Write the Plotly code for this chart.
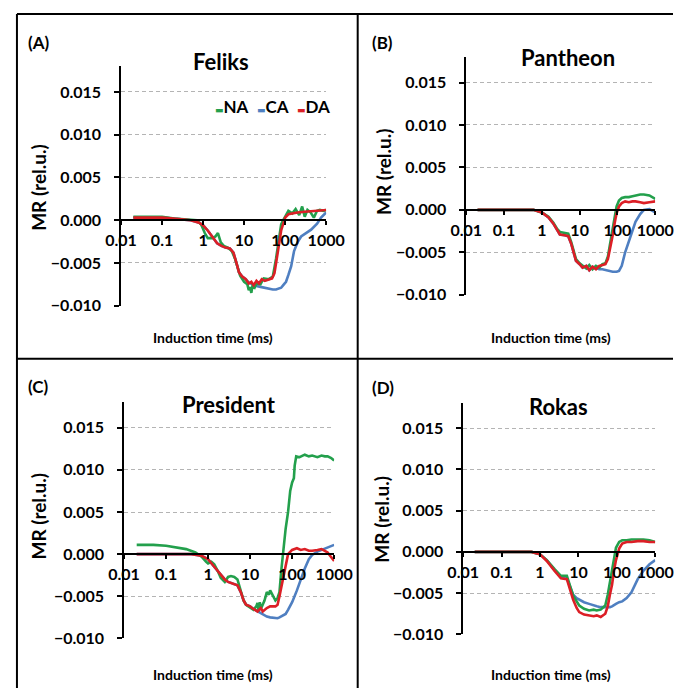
import plotly.graph_objects as go

W, H = 692, 697

GREEN = "#23a04c"
BLUE = "#4f7fc1"
RED = "#dc1f26"

series_names = ["NA", "CA", "DA"]
x_tick_vals = [0.01, 0.1, 1, 10, 100, 1000]
x_tick_text = ["0.01", "0.1", "1", "10", "100", "1000"]
y_tick_vals = [-0.010, -0.005, 0.0, 0.005, 0.010, 0.015]
y_tick_text = ["\u22120.010", "\u22120.005", "0.000", "0.005", "0.010", "0.015"]

panel_titles = ["Feliks", "Pantheon", "President", "Rokas"]
panel_letters = ["(A)", "(B)", "(C)", "(D)"]

# ---------------- Panel A : Feliks ----------------
A_na_t = [0.02, 0.05, 0.1, 0.2, 0.4, 0.7, 0.9, 1.1, 1.3, 1.7, 2.0, 2.3, 2.7, 3.2, 4, 5, 6, 7, 8, 10, 12, 13, 14,
          15, 16, 18, 20, 25, 30, 40, 50, 60, 70, 80, 90, 100, 120, 150, 180, 220, 260, 300, 350, 420, 500, 600,
          700, 850, 1000]
A_na_y = [0.0004, 0.0004, 0.0004, 0.0002, 0.0001, 0.0, -0.0005, -0.0015, -0.0021, -0.0021, -0.0019, -0.0015,
          -0.0026, -0.0030, -0.0032, -0.0036, -0.0045, -0.0056, -0.0065, -0.0072, -0.0075, -0.0082, -0.0078,
          -0.0085, -0.0077, -0.0079, -0.0074, -0.0075, -0.0068, -0.0069, -0.0066, -0.0045, -0.0020, -0.0005,
          0.0, 0.0004, 0.0011, 0.0008, 0.0013, 0.0006, 0.0016, 0.0004, 0.0012, 0.0009, 0.0003, 0.0011, 0.0012,
          0.0011, 0.0012]
A_ca_t = [0.02, 0.1, 0.3, 0.5, 0.8, 1.0, 1.3, 1.7, 2.2, 2.8, 3.5, 4.5, 5.5, 6.5, 7.5, 9, 11, 13, 16, 20, 25,
          30, 40, 50, 60, 70, 80, 90, 105, 120, 140, 165, 200, 245, 300, 430, 600, 750, 1000]
A_ca_y = [0.0003, 0.0003, 0.0001, 0.0, -0.0003, -0.0006, -0.0012, -0.0020, -0.0027, -0.0030, -0.0032, -0.0033,
          -0.0038, -0.0050, -0.0061, -0.0066, -0.0069, -0.0073, -0.0075, -0.0077, -0.0078, -0.0079, -0.0080,
          -0.0081, -0.0081, -0.0080, -0.0079, -0.0076, -0.0072, -0.0064, -0.0054, -0.0036, -0.0026, -0.0019,
          -0.0016, -0.0011, -0.0004, 0.0003, 0.0009]
A_da_t = [0.02, 0.1, 0.3, 0.5, 0.8, 1.0, 1.3, 1.7, 2.2, 2.8, 3.5, 4.5, 5.5, 6.5, 7.5, 9, 11, 13, 15, 17, 20, 23,
          27, 32, 40, 48, 55, 62, 70, 80, 90, 100, 120, 150, 200, 300, 500, 700, 1000]
A_da_y = [0.0003, 0.0003, 0.0001, 0.0, -0.0003, -0.0006, -0.0012, -0.0020, -0.0027, -0.0030, -0.0032, -0.0033,
          -0.0038, -0.0050, -0.0061, -0.0066, -0.0069, -0.0074, -0.0072, -0.0076, -0.0071, -0.0074, -0.0069,
          -0.0071, -0.0069, -0.0068, -0.0062, -0.0048, -0.0030, -0.0012, -0.0003, 0.0003, 0.0007, 0.0008,
          0.0009, 0.0010, 0.0011, 0.0012, 0.0012]

# ---------------- Panel B : Pantheon ----------------
B_t = [0.02, 0.1, 0.3, 0.6, 1.0, 1.5, 2, 2.5, 3, 4, 5, 6, 7, 8, 10, 12, 15, 18, 22, 27, 33, 40, 48, 56, 65, 75,
       85, 95, 110, 130, 160, 200, 250, 300, 400, 500, 700, 1000]
B_na_y = [0.0, 0.0, 0.0, 0.0, -0.0003, -0.0008, -0.0015, -0.0022, -0.0026, -0.0027, -0.0028, -0.0038, -0.0050,
          -0.0058, -0.0063, -0.0066, -0.0069, -0.0065, -0.0070, -0.0066, -0.0068, -0.0064, -0.0063, -0.0055,
          -0.0040, -0.0022, -0.0008, 0.0004, 0.0011, 0.0014, 0.0015, 0.0015, 0.0016, 0.0017, 0.0018, 0.0018,
          0.0017, 0.0013]
B_ca_y = [0.0, 0.0, 0.0, 0.0, -0.0003, -0.0009, -0.0016, -0.0024, -0.0029, -0.0030, -0.0031, -0.0040, -0.0052,
          -0.0060, -0.0064, -0.0068, -0.0066, -0.0071, -0.0067, -0.0069, -0.0070, -0.0070, -0.0071, -0.0072,
          -0.0073, -0.0073, -0.0073, -0.0073, -0.0072, -0.0066, -0.0050, -0.0037, -0.0024, -0.0014, -0.0005,
          0.0, 0.0001, -0.0003]
B_da_y = [0.0, 0.0, 0.0, 0.0, -0.0003, -0.0009, -0.0016, -0.0024, -0.0029, -0.0030, -0.0031, -0.0040, -0.0052,
          -0.0060, -0.0064, -0.0068, -0.0066, -0.0071, -0.0067, -0.0070, -0.0066, -0.0065, -0.0064, -0.0058,
          -0.0045, -0.0030, -0.0015, -0.0004, 0.0004, 0.0008, 0.0010, 0.0009, 0.0010, 0.0010, 0.0009, 0.0008,
          0.0009, 0.0010]

# ---------------- Panel C : President ----------------
C_na_t = [0.02, 0.05, 0.1, 0.2, 0.3, 0.5, 0.7, 0.9, 1.0, 1.2, 1.4, 1.7, 2, 2.5, 3, 3.5, 4.2, 5, 6, 7, 8, 10, 12,
          14, 15, 16, 17, 18, 20, 22, 25, 28, 30, 35, 40, 45, 50, 55, 60, 70, 80, 90, 100, 110, 115, 125, 150,
          200, 250, 300, 400, 500, 600, 700, 850, 1000]
C_na_y = [0.0011, 0.0011, 0.0010, 0.0008, 0.0006, 0.0002, -0.0003, -0.0009, -0.0011, -0.0009, -0.0012, -0.0020,
          -0.0028, -0.0033, -0.0027, -0.0026, -0.0027, -0.0030, -0.0045, -0.0055, -0.0060, -0.0063, -0.0066,
          -0.0062, -0.0058, -0.0068, -0.0057, -0.0065, -0.0060, -0.0055, -0.0045, -0.0048, -0.0043, -0.0050,
          -0.0055, -0.0052, -0.0045, -0.0020, 0.0, 0.0030, 0.0050, 0.0075, 0.0085, 0.0090, 0.0105, 0.0116,
          0.0115, 0.0118, 0.0116, 0.0117, 0.0115, 0.0117, 0.0116, 0.0116, 0.0114, 0.0111]
C_t = [0.02, 0.1, 0.4, 0.7, 1.0, 1.4, 2, 2.5, 3, 4, 5, 6, 7, 8, 10, 12, 15, 18, 20, 25, 30, 40, 45, 50, 55, 60,
       70, 80, 100, 130, 160, 200, 250, 300, 400, 500, 600, 700, 800, 900, 1000]
C_ca_y = [0.0, 0.0, 0.0, -0.0002, -0.0006, -0.0015, -0.0025, -0.0030, -0.0033, -0.0035, -0.0037, -0.0045,
          -0.0055, -0.0060, -0.0062, -0.0065, -0.0068, -0.0070, -0.0072, -0.0074, -0.0075, -0.0076, -0.0076,
          -0.0075, -0.0074, -0.0073, -0.0071, -0.0066, -0.0057, -0.0043, -0.0030, -0.0017, -0.0006, -0.0001,
          0.0003, 0.0005, 0.0006, 0.0008, 0.0009, 0.0010, 0.0011]
C_da_y = [0.0, 0.0, 0.0, -0.0002, -0.0006, -0.0015, -0.0025, -0.0030, -0.0033, -0.0035, -0.0037, -0.0045,
          -0.0055, -0.0060, -0.0062, -0.0065, -0.0068, -0.0064, -0.0068, -0.0064, -0.0062, -0.0062, -0.0060,
          -0.0050, -0.0040, -0.0030, -0.0012, 0.0, 0.0005, 0.0007, 0.0005, 0.0006, 0.0004, 0.0004, 0.0005,
          0.0006, 0.0004, 0.0002, -0.0002, -0.0005, -0.0008]

# ---------------- Panel D : Rokas ----------------
D_t = [0.02, 0.1, 0.3, 0.6, 1.0, 1.5, 2.4, 3.5, 5, 6, 7.3, 9, 10.5, 14, 19, 25, 30, 38, 50, 58, 66, 75, 85, 95,
       115, 138, 180, 240, 350, 490, 710, 1000]
D_na_y = [0.0, 0.0, 0.0, 0.0, -0.0003, -0.0010, -0.0021, -0.0029, -0.0029, -0.0040, -0.0053, -0.0060, -0.0065,
          -0.0069, -0.0071, -0.0070, -0.0071, -0.0070, -0.0065, -0.0052, -0.0036, -0.0020, -0.0004, 0.0005,
          0.0012, 0.0014, 0.0014, 0.0015, 0.0015, 0.0015, 0.0014, 0.0012]
D_ca_y = [0.0, 0.0, 0.0, 0.0, -0.0003, -0.0010, -0.0022, -0.0030, -0.0032, -0.0042, -0.0052, -0.0056, -0.0058,
          -0.0061, -0.0063, -0.0065, -0.0066, -0.0067, -0.0067, -0.0067, -0.0067, -0.0066, -0.0064, -0.0063,
          -0.0061, -0.0060, -0.0056, -0.0049, -0.0033, -0.0023, -0.0015, -0.0010]
D_da_y = [0.0, 0.0, 0.0, 0.0, -0.0003, -0.0011, -0.0023, -0.0032, -0.0033, -0.0045, -0.0058, -0.0068, -0.0073,
          -0.0076, -0.0077, -0.0078, -0.0077, -0.0079, -0.0075, -0.0066, -0.0052, -0.0040, -0.0022, -0.0010,
          0.0004, 0.0010, 0.0012, 0.0012, 0.0013, 0.0013, 0.0012, 0.0012]

panels_data = [
    [(A_na_t, A_na_y), (A_ca_t, A_ca_y), (A_da_t, A_da_y)],
    [(B_t, B_na_y), (B_t, B_ca_y), (B_t, B_da_y)],
    [(C_na_t, C_na_y), (C_t, C_ca_y), (C_t, C_da_y)],
    [(D_t, D_na_y), (D_t, D_ca_y), (D_t, D_da_y)],
]
colors = {"NA": GREEN, "CA": BLUE, "DA": RED}
draw_order = [1, 0, 2]  # CA, NA, DA (red on top)

# ---------------- layout geometry (pixels, figure space) ----------------
# plot left, plot right, pixel row of -0.010, pixels per 0.005
geom = [
    (110.6, 326.7, 309.7, 43.3),
    (474.2, 673.3, 298.6, 43.0),
    (113.8, 335.1, 646.8, 42.7),
    (471.0, 673.3, 642.7, 41.8),
]
Y_MIN, Y_MAX = -0.010, 0.018

def fx(px):
    return px / W

def fy(py):
    return 1 - py / H

fig = go.Figure()
layout = dict(
    width=W, height=H, margin=dict(l=0, r=0, t=0, b=0, pad=0), autosize=False,
    paper_bgcolor="white", plot_bgcolor="white", showlegend=False,
    font=dict(family="Lato", color="black"),
)

FONT_TICK = dict(family="Lato", size=16, color="black", weight="bold")

for i, (x0, x1, ybot, pp) in enumerate(geom):
    n = "" if i == 0 else str(i + 1)
    ytop = ybot - (Y_MAX - Y_MIN) / 0.005 * pp
    yzero = ybot - (0 - Y_MIN) / 0.005 * pp
    layout["xaxis" + n] = dict(
        type="log", range=[-2, 3], domain=[fx(x0), fx(x1)], anchor="free", position=fy(yzero),
        showline=True, linecolor="black", linewidth=1.5, showgrid=False, zeroline=False,
        ticks="outside", ticklen=4, tickwidth=1.5, tickcolor="black",
        tickvals=x_tick_vals, ticktext=x_tick_text, tickfont=FONT_TICK, ticklabelstandoff=2,
    )
    layout["yaxis" + n] = dict(
        range=[Y_MIN, Y_MAX], domain=[fy(ybot), fy(ytop)], anchor="x" + n,
        showline=True, linecolor="black", linewidth=1.5, zeroline=False,
        showgrid=True, gridcolor="#b4b4b4", griddash="4px,3px", gridwidth=1,
        ticks="outside", ticklen=5, tickwidth=1.5, tickcolor="black",
        tickvals=y_tick_vals, ticktext=y_tick_text, tickfont=FONT_TICK, ticklabelstandoff=10,
    )
    for k in draw_order:
        t, y = panels_data[i][k]
        name = series_names[k]
        fig.add_trace(go.Scatter(
            x=t, y=y, mode="lines", name=name, xaxis="x" + n, yaxis="y" + n,
            line=dict(color=colors[name], width=2.6), showlegend=False,
        ))

title_pos = [(216.0, 62.8), (581.7, 58.7), (224.4, 409.9), (571.1, 411.9)]
letter_pos = [(23.2, 43.5), (385.7, 43.5), (23.2, 391.7), (386.7, 392.7)]
ytitle_pos = [(24.2, 189.3), (387.8, 174.1), (24.2, 522.3), (384.6, 526.3)]
xtitle_pos = [(207.6, 342.1), (563.8, 342.1), (207.6, 683.2), (563.8, 683.2)]
legend_pos = (269.8, 108.3)

ann = []
for i in range(4):
    ann.append(dict(text=panel_titles[i], x=fx(title_pos[i][0]), y=fy(title_pos[i][1]), xref="paper",
                    yref="paper", showarrow=False, xanchor="center", yanchor="middle",
                    font=dict(family="Lato", size=22, color="black", weight="bold")))
    ann.append(dict(text=panel_letters[i], x=fx(letter_pos[i][0]), y=fy(letter_pos[i][1]), xref="paper",
                    yref="paper", showarrow=False, xanchor="center", yanchor="middle",
                    font=dict(family="Lato", size=17, color="black", weight="bold")))
    ann.append(dict(text="MR (rel.u.)", x=fx(ytitle_pos[i][0]), y=fy(ytitle_pos[i][1]), xref="paper",
                    yref="paper", showarrow=False, xanchor="center", yanchor="middle", textangle=-90,
                    font=dict(family="Lato", size=19, color="black", weight="bold")))
    ann.append(dict(text="Induction time (ms)", x=fx(xtitle_pos[i][0]), y=fy(xtitle_pos[i][1]), xref="paper",
                    yref="paper", showarrow=False, xanchor="center", yanchor="middle",
                    font=dict(family="Lato", size=14, color="black", weight="bold")))

legend_text = "\u2002".join(
    f"<span style='color:{colors[nm]};font-family:DejaVu Sans;font-size:9px'>\u25ac</span>{nm}"
    for nm in series_names
)
ann.append(dict(text=legend_text, x=fx(legend_pos[0]), y=fy(legend_pos[1]), xref="paper", yref="paper",
                showarrow=False, xanchor="center", yanchor="middle",
                font=dict(family="Lato", size=17, color="black", weight="bold")))
layout["annotations"] = ann

frame = [
    (1, 14.2, 692, 14.2),
    (1, 14.2, 1, 697),
    (359.9, 14.2, 359.9, 697),
    (1, 363.4, 692, 363.4),
]
layout["shapes"] = [
    dict(type="line", xref="paper", yref="paper", x0=fx(a), y0=fy(b), x1=fx(c), y1=fy(d),
         line=dict(color="black", width=2))
    for a, b, c, d in frame
]

fig.update_layout(**layout)
fig.write_html("out.html", config={"responsive": False})
